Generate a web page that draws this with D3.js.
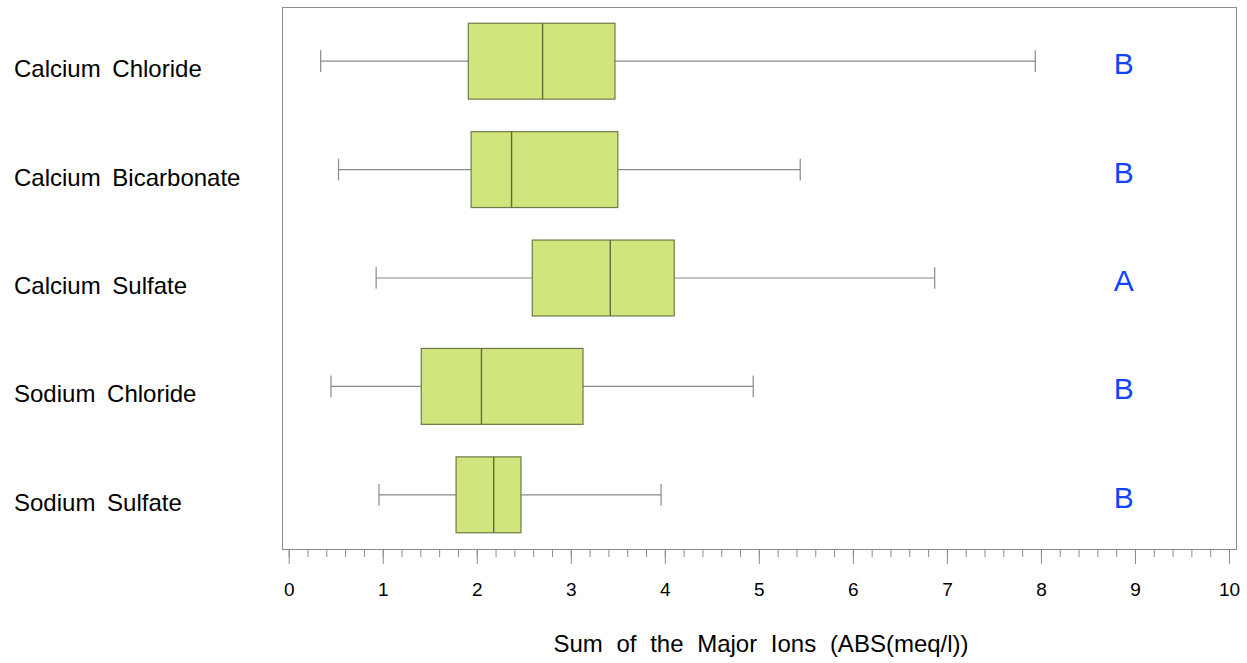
<!DOCTYPE html>
<html>
<head>
<meta charset="utf-8">
<script src="https://cdn.jsdelivr.net/npm/d3@7"></script>
<style>
  body { margin: 0; background: #fff; }
  svg text { font-family: "Liberation Sans", Arial, sans-serif; }
</style>
</head>
<body>
<svg id="chart" width="1247" height="663"></svg>
<script>
// groups, top to bottom
var groups = ["Calcium Chloride", "Calcium Bicarbonate", "Calcium Sulfate", "Sodium Chloride", "Sodium Sulfate"];
var lowWhisker = [0.34, 0.53, 0.93, 0.45, 0.96];
var q1 = [1.91, 1.94, 2.59, 1.41, 1.78];
var median = [2.70, 2.37, 3.42, 2.05, 2.18];
var q3 = [3.47, 3.50, 4.10, 3.13, 2.47];
var highWhisker = [7.94, 5.44, 6.87, 4.94, 3.96];
var letters = ["B", "B", "A", "B", "B"];
var xTicks = [0, 1, 2, 3, 4, 5, 6, 7, 8, 9, 10];

var svg = d3.select("#chart");
var frame = { left: 282, right: 1236, top: 7, bottom: 549 };

var x = d3.scaleLinear().domain([0, 10]).range([288.7, 1229]);
var y = d3.scaleBand().domain(groups).range([frame.top, frame.bottom]).padding(0);

var boxH = y.bandwidth() * 0.70;
var capH = y.bandwidth() * 0.20;

// frame
svg.append("rect")
  .attr("x", frame.left + 0.5)
  .attr("y", frame.top + 0.5)
  .attr("width", frame.right - frame.left)
  .attr("height", frame.bottom - frame.top)
  .attr("fill", "none")
  .attr("stroke", "#8c8c8c")
  .attr("stroke-width", 1);

var data = groups.map(function(g, i) {
  return { name: g, lo: lowWhisker[i], q1: q1[i], med: median[i], q3: q3[i], hi: highWhisker[i], letter: letters[i] };
});

var g = svg.selectAll(".grp").data(data).enter().append("g").attr("class", "grp");

// whiskers
g.append("line")
  .attr("x1", d => x(d.lo)).attr("x2", d => x(d.hi))
  .attr("y1", d => y(d.name) + y.bandwidth() / 2)
  .attr("y2", d => y(d.name) + y.bandwidth() / 2)
  .attr("stroke", "#8a8a8a").attr("stroke-width", 1.2);

g.append("line")
  .attr("x1", d => x(d.lo)).attr("x2", d => x(d.lo))
  .attr("y1", d => y(d.name) + y.bandwidth() / 2 - capH / 2)
  .attr("y2", d => y(d.name) + y.bandwidth() / 2 + capH / 2)
  .attr("stroke", "#8a8a8a").attr("stroke-width", 1.2);

g.append("line")
  .attr("x1", d => x(d.hi)).attr("x2", d => x(d.hi))
  .attr("y1", d => y(d.name) + y.bandwidth() / 2 - capH / 2)
  .attr("y2", d => y(d.name) + y.bandwidth() / 2 + capH / 2)
  .attr("stroke", "#8a8a8a").attr("stroke-width", 1.2);

// boxes
g.append("rect")
  .attr("x", d => x(d.q1))
  .attr("width", d => x(d.q3) - x(d.q1))
  .attr("y", d => y(d.name) + (y.bandwidth() - boxH) / 2)
  .attr("height", boxH)
  .attr("fill", "#d0e57c")
  .attr("stroke", "#6e7a48")
  .attr("stroke-width", 1.2);

g.append("line")
  .attr("x1", d => x(d.med)).attr("x2", d => x(d.med))
  .attr("y1", d => y(d.name) + (y.bandwidth() - boxH) / 2)
  .attr("y2", d => y(d.name) + (y.bandwidth() + boxH) / 2)
  .attr("stroke", "#5f6b3a").attr("stroke-width", 1.4);

// group labels
g.append("text")
  .attr("x", 14)
  .attr("y", d => y(d.name) + y.bandwidth() / 2 + 16)
  .attr("font-size", 24)
  .attr("word-spacing", 5)
  .attr("fill", "#000")
  .text(d => d.name);

// grouping letters
g.append("text")
  .attr("x", x(8.88))
  .attr("y", d => y(d.name) + y.bandwidth() / 2 + 13)
  .attr("text-anchor", "middle")
  .attr("font-size", 30)
  .attr("fill", "#0f45ff")
  .text(d => d.letter);

// axis: minor ticks
var minor = svg.append("g")
  .attr("transform", "translate(0," + (frame.bottom + 1) + ")")
  .call(d3.axisBottom(x).tickValues(d3.range(0, 10.001, 0.2)).tickSize(7).tickFormat(""));
minor.select(".domain").remove();
minor.selectAll("line").attr("stroke", "#8c8c8c");

// axis: major ticks
var major = svg.append("g")
  .attr("transform", "translate(0," + (frame.bottom + 1) + ")")
  .call(d3.axisBottom(x).tickValues(xTicks).tickSize(14).tickPadding(19).tickFormat(d3.format("d")));
major.select(".domain").remove();
major.selectAll("line").attr("stroke", "#8c8c8c");
major.selectAll("text")
  .attr("font-size", 19)
  .attr("fill", "#000")
  .style("font-family", "'Liberation Sans', Arial, sans-serif");

// axis title
svg.append("text")
  .attr("x", (frame.left + frame.right) / 2 + 2)
  .attr("y", 652)
  .attr("text-anchor", "middle")
  .attr("font-size", 24)
  .attr("word-spacing", 7)
  .attr("fill", "#000")
  .text("Sum of the Major Ions (ABS(meq/l))");
</script>
</body>
</html>
